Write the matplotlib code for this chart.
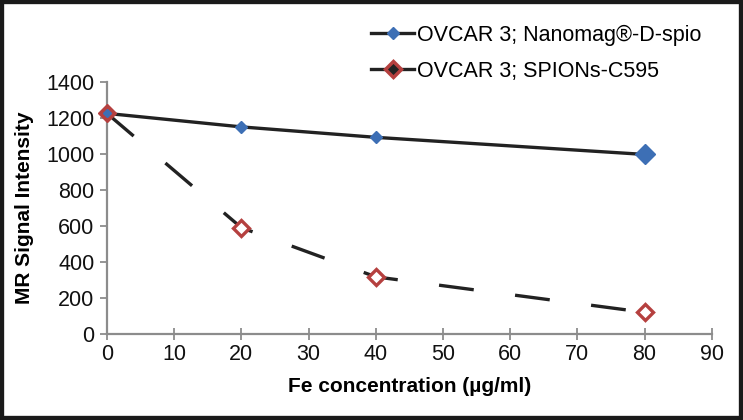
import matplotlib
matplotlib.use("Agg")
import matplotlib.pyplot as plt
from matplotlib.patches import Rectangle
from matplotlib.lines import Line2D

plt.rcParams['font.family'] = ['Liberation Sans', 'DejaVu Sans']

fe_conc = [0, 20, 40, 80]
nanomag = [1225, 1150, 1092, 997]
spions = [1225, 590, 317, 120]
series_labels = ["OVCAR 3; Nanomag®-D-spio", "OVCAR 3; SPIONs-C595"]
x_ticks = [0, 10, 20, 30, 40, 50, 60, 70, 80, 90]
y_ticks = [0, 200, 400, 600, 800, 1000, 1200, 1400]

fig = plt.figure(figsize=(7.43, 4.2), dpi=100)
ax = fig.add_axes([0.144, 0.205, 0.814, 0.60])

blue = '#3D6FB5'
red = '#B5403F'
lc = '#222222'

ax.plot(fe_conc, nanomag, color=lc, lw=2.4, zorder=3, clip_on=False)
ax.plot(fe_conc[:3], nanomag[:3], linestyle='none', marker='D', ms=6,
        color=blue, zorder=4, clip_on=False)
ax.plot(fe_conc[3:], nanomag[3:], linestyle='none', marker='D', ms=10,
        color=blue, zorder=4, clip_on=False)

ax.plot(fe_conc, spions, color=lc, lw=2.4, dashes=(10.5, 12.5), zorder=3,
        clip_on=False)
ax.plot(fe_conc[1:], spions[1:], linestyle='none', marker='D', ms=8,
        mfc='white', mec=red, mew=2.4, zorder=5, clip_on=False)
ax.plot(fe_conc[:1], spions[:1], linestyle='none', marker='D', ms=9,
        mfc=red, mec=red, zorder=5, clip_on=False)
ax.plot(fe_conc[:1], spions[:1], linestyle='none', marker='D', ms=4,
        mfc=blue, mec=blue, zorder=6, clip_on=False)

ax.set_xlim(0, 90)
ax.set_ylim(0, 1400)
ax.set_xticks(x_ticks)
ax.set_yticks(y_ticks)
for s in ['top', 'right']:
    ax.spines[s].set_visible(False)
for s in ['left', 'bottom']:
    ax.spines[s].set_color('#8C8C8C')
    ax.spines[s].set_linewidth(1.6)
ax.tick_params(axis='both', colors='#8C8C8C', width=1.3, length=5,
               labelsize=15.5, labelcolor='#111111')
ax.tick_params(axis='x', direction='inout', length=8, pad=3)
ax.tick_params(axis='y', pad=4)
ax.set_xlabel("Fe concentration (µg/ml)", fontsize=15, fontweight='bold',
              labelpad=9)
ax.set_ylabel("MR Signal Intensity", fontsize=15, fontweight='bold',
              labelpad=9)

h1 = Line2D([], [], color=lc, lw=2.4, marker='D', ms=6, mfc=blue, mec=blue)
h2 = Line2D([], [], color=lc, lw=2.4, marker='D', ms=8, mfc='#222222',
            mec=red, mew=2.5)
fig.legend([h1, h2], series_labels, loc='upper left',
           bbox_to_anchor=(0.488, 0.962), frameon=False, fontsize=15.5,
           handlelength=2.0, handletextpad=0.15, labelspacing=0.7,
           borderaxespad=0)

fig.patches.append(Rectangle((0, 0), 1, 1, transform=fig.transFigure,
                             fill=False, edgecolor='#1a1a1a', lw=6,
                             zorder=10))

fig.savefig("out.png", dpi=100)
